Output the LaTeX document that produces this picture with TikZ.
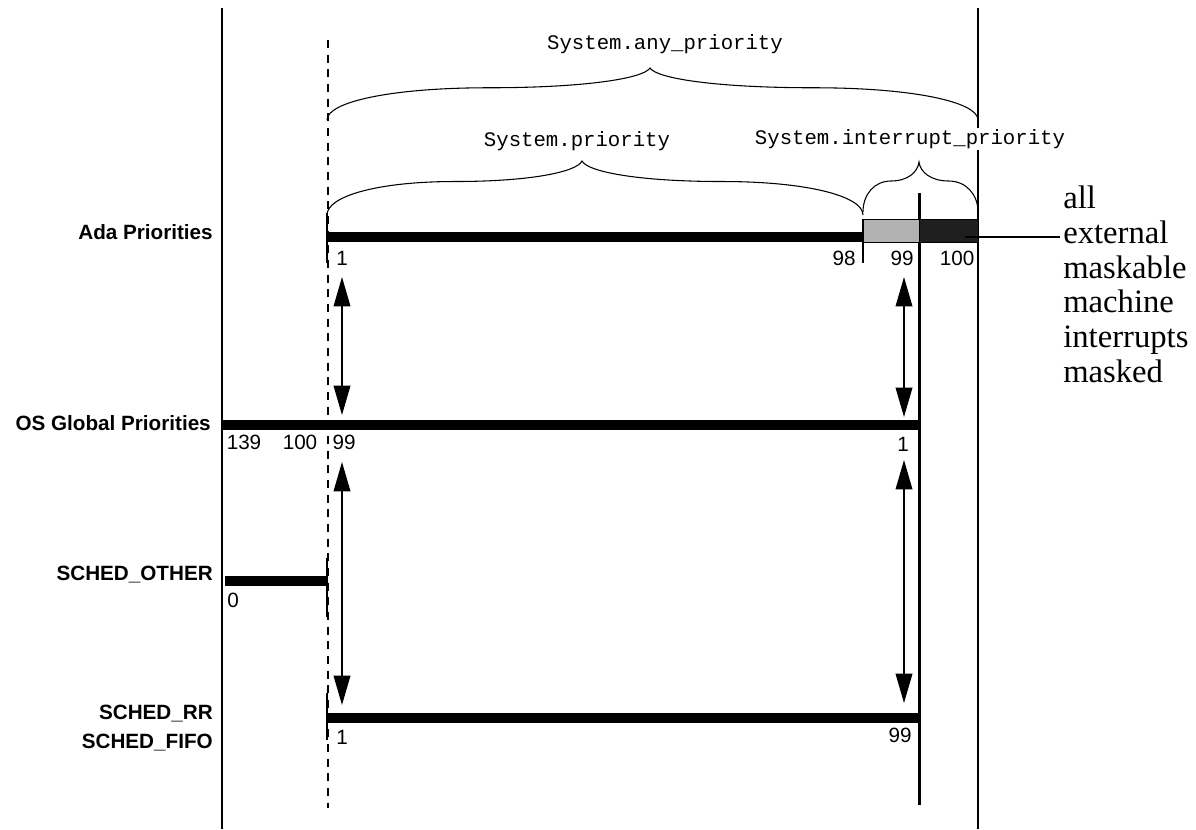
\documentclass[tikz,border=0pt]{standalone}
\usepackage{fontspec}
\setmainfont{Liberation Serif}
\setsansfont{Liberation Sans}
\setmonofont{Liberation Mono}
\usetikzlibrary{arrows.meta}

\tikzset{
  prioline/.style={line width=7.5pt},
  guide/.style={line width=1.5pt},
  prio/.style={font=\sffamily\fontsize{15.5}{18}\selectfont, inner sep=0pt},
  scalename/.style={font=\sffamily\bfseries\fontsize{15.5}{21.75}\selectfont, align=right, anchor=east, inner sep=0pt},
  rangename/.style={font=\ttfamily\fontsize{15.5}{18}\selectfont, fill=white, inner sep=1pt},
  rangebrace/.style={line width=0.8pt},
  mapping/.style={{Triangle[length=22pt,width=12.5pt]}-{Triangle[length=22pt,width=12.5pt]}, line width=1.1pt},
  note/.style={font=\fontsize{24.5}{26}\selectfont, align=left, inner sep=0pt}
}

% brace: left x, right x, tip x, base y, height
\newcommand{\prioritybrace}[5]{%
  \draw[rangebrace] (#1,#4)
    .. controls +(0,{-0.35*#5}) and +({-0.3*(#3-#1)},0) .. ({#1+0.5*(#3-#1)},{#4-0.62*#5})
    .. controls +({0.3*(#3-#1)},0) and +({-0.02*(#3-#1)},{0.2*#5}) .. (#3,{#4-#5})
    .. controls +({0.02*(#2-#3)},{0.2*#5}) and +({-0.3*(#2-#3)},0) .. ({#2-0.5*(#2-#3)},{#4-0.62*#5})
    .. controls +({0.3*(#2-#3)},0) and +(0,{-0.35*#5}) .. (#2,#4);
}

\begin{document}
\begin{tikzpicture}[x=0.75pt,y=-0.75pt]
\useasboundingbox (0,0) rectangle (1196,829);

% vertical guides
\draw[guide] (222,8) -- (222,829);
\draw[guide] (978,8) -- (978,829);
\draw[line width=1.5pt, dash pattern=on 6pt off 5pt] (327.5,40) -- (327.5,808);
\draw[line width=2.25pt] (919,193) -- (919,805);

% ranges of System priorities
\prioritybrace{327}{978}{650}{120}{52}
\prioritybrace{327}{863}{582}{215}{54}
\prioritybrace{863}{978}{919}{212}{50}
\node[rangename] (anyprio) at (665,44) {System.any\_priority};
\node[rangename] (sysprio) at (577,141) {System.priority};
\node[rangename] (intprio) at (910,139) {System.interrupt\_priority};

% Ada priorities
\node[scalename] (ada) at (213,232) {Ada Priorities};
\draw[prioline] (327,237) -- (863,237);
\draw[fill=black!30, line width=0.75pt] (863,219) rectangle (919,242);
\draw[fill=black!88, line width=0.75pt] (919,219) rectangle (978,242);
\draw[guide] (327,213) -- (327,263);
\draw[guide] (863,219) -- (863,263);
\node[prio] (ada1) at (342,258) {1};
\node[prio] (ada98) at (844,258) {98};
\node[prio] (ada99) at (902,258) {99};
\node[prio] (ada100) at (957,258) {100};
\node[note, anchor=north west] (masked) at (1063,186)
  {all\\external\\maskable\\machine\\interrupts\\masked};
\coordinate (lead) at (965,237);
\draw[guide] (lead) -- (1060,237);

% OS global priorities
\node[scalename] (os) at (211,423) {OS Global Priorities};
\draw[prioline] (222,425) -- (919,425);
\node[prio] (os139) at (244,442) {139};
\node[prio] (os100) at (300,442) {100};
\node[prio] (os99) at (344,442) {99};
\node[prio] (os1) at (903,444) {1};

% SCHED_OTHER
\node[scalename] (other) at (213,575) {SCHED\_OTHER};
\draw[prioline] (225,581) -- (328,581);
\draw[guide] (327,558) -- (327,617);
\node[prio] (other0) at (233,600) {0};

% SCHED_RR and SCHED_FIFO
\node[scalename] (rr) at (213,728) {SCHED\_RR\\SCHED\_FIFO};
\draw[prioline] (328,718) -- (919,718);
\draw[guide] (327,693) -- (327,740);
\node[prio] (rr1) at (342,737) {1};
\node[prio] (rr99) at (900,735) {99};

% mappings between the scales
\coordinate (a1) at (342,277);
\coordinate (o1) at (342,415);
\coordinate (o2) at (342,462);
\coordinate (r1) at (342,705);
\coordinate (a99) at (904,277);
\coordinate (o99) at (904,417);
\coordinate (o98) at (904,460);
\coordinate (r99) at (904,703);
\draw[mapping] (a1) -- (o1);
\draw[mapping] (a99) -- (o99);
\draw[mapping] (o2) -- (r1);
\draw[mapping] (o98) -- (r99);

\end{tikzpicture}
\end{document}
